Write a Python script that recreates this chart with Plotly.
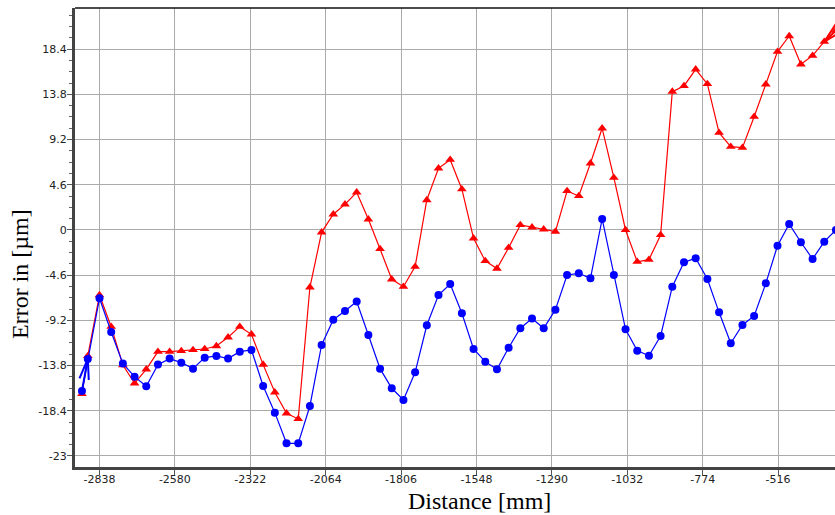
import math
import plotly.graph_objects as go

# ---------------- data ----------------
distance_mm = [-2898, -2878, -2838, -2798, -2758, -2718, -2678, -2638, -2598, -2558,
               -2518, -2478, -2438, -2398, -2358, -2318, -2278, -2238, -2198, -2158,
               -2118, -2078, -2038, -1998, -1958, -1918, -1878, -1838, -1798, -1758,
               -1718, -1678, -1638, -1598, -1558, -1518, -1478, -1438, -1398, -1358,
               -1318, -1278, -1238, -1198, -1158, -1118, -1078, -1038, -998, -958,
               -918, -878, -838, -798, -758, -718, -678, -638, -598, -558,
               -518, -478, -438, -398, -358, -318]

blue_err = [-16.39, -13.13, -6.95, -10.38, -13.6, -14.93, -15.91, -13.7, -13.09, -13.5,
            -14.11, -12.99, -12.82, -13.09, -12.38, -12.21, -15.88,
            -18.59, -21.71, -21.71, -17.91, -11.70, -9.13, -8.24, -7.29, -10.69,
            -14.11, -16.11, -17.30, -14.48, -9.70, -6.62, -5.50, -8.48,
            -12.11, -13.40, -14.18, -11.98, -10.0, -9.02, -10.0, -8.11, -4.58,
            -4.41, -4.92, 1.12, -4.58, -10.11, -12.28, -12.8,
            -10.79, -5.77, -3.29, -2.88, -4.99, -8.38, -11.53, -9.67, -8.75,
            -5.43, -1.60, 0.61, -1.25, -2.95, -1.19, 0.0]

red_err = [-16.69, -12.82, -6.62, -9.84, -13.74, -15.6, -14.18, -12.38, -12.38, -12.31,
           -12.21, -12.11, -11.81, -10.92, -9.84, -10.62, -13.7,
           -16.52, -18.66, -19.23, -5.83, -0.24, 1.60, 2.61, 3.83, 1.09,
           -1.93, -5.02, -5.77, -3.73, 3.05, 6.28, 7.15, 4.15,
           -0.85, -3.15, -3.93, -1.80, 0.51, 0.27, 0.07, -0.17, 3.97,
           3.46, 6.79, 10.35, 5.32, 0.0, -3.23, -3.02,
           -0.51, 14.08, 14.66, 16.35, 14.86, 9.90, 8.48, 8.38, 11.53,
           14.83, 18.15, 19.74, 16.86, 17.74, 19.16, 20.3]

x_tick_vals = [-2838, -2580, -2322, -2064, -1806, -1548, -1290, -1032, -774, -516]
x_tick_text = ["-2838", "-2580", "-2322", "-2064", "-1806", "-1548", "-1290", "-1032", "-774", "-516"]
y_tick_vals = [18.4, 13.8, 9.2, 4.6, 0, -4.6, -9.2, -13.8, -18.4, -23]
y_tick_text = ["18.4", "13.8", "9.2", "4.6", "0", "-4.6", "-9.2", "-13.8", "-18.4", "-23"]

# ---------------- layout geometry ----------------
FIG_W, FIG_H = 835, 515
ML, MR, MT, MB = 75, 0, 8, 48
XR = [-2921.8, -321.3]
YR = [-24.12, 22.59]
PW, PH = FIG_W - ML - MR, FIG_H - MT - MB


def to_px(x, y):
    px = ML + (x - XR[0]) / (XR[1] - XR[0]) * PW
    py = MT + (YR[1] - y) / (YR[1] - YR[0]) * PH
    return px, py


def to_data(px, py):
    x = XR[0] + (px - ML) / PW * (XR[1] - XR[0])
    y = YR[1] - (py - MT) / PH * (YR[1] - YR[0])
    return x, y


def arrow_head(xs, ys, tail_i, tip_i, length=21.0, half_angle=13.0):
    tx, ty = to_px(xs[tail_i], ys[tail_i])
    hx, hy = to_px(xs[tip_i], ys[tip_i])
    back = math.atan2(ty - hy, tx - hx)
    ax, ay = [], []
    for s in (1, -1):
        a = back + s * math.radians(half_angle)
        ex, ey = to_data(hx + length * math.cos(a), hy + length * math.sin(a))
        ax.append(ex)
        ay.append(ey)
    X = [ax[0], xs[tip_i], ax[1], None, xs[tail_i], xs[tip_i]]
    Y = [ay[0], ys[tip_i], ay[1], None, ys[tail_i], ys[tip_i]]
    return X, Y


fig = go.Figure()

fig.add_trace(go.Scatter(
    x=distance_mm, y=red_err, mode="lines+markers",
    line=dict(color="#ff0000", width=1.2),
    marker=dict(symbol="triangle-up", size=8.5, color="#ff0000"),
    showlegend=False))

fig.add_trace(go.Scatter(
    x=distance_mm, y=blue_err, mode="lines+markers",
    line=dict(color="#0000ff", width=1.2),
    marker=dict(symbol="circle", size=8, color="#0000ff"),
    showlegend=False))

bx, by = arrow_head(distance_mm, blue_err, 0, 1)
fig.add_trace(go.Scatter(x=bx, y=by, mode="lines",
                         line=dict(color="#0000ff", width=2), showlegend=False,
                         hoverinfo="skip"))
n = len(distance_mm)
rx, ry = arrow_head(distance_mm, red_err, n - 1, n - 2)
fig.add_trace(go.Scatter(x=rx, y=ry, mode="lines",
                         line=dict(color="#ff0000", width=2), showlegend=False,
                         hoverinfo="skip"))

tick_font = dict(family="DejaVu Sans", size=11, color="#222222")
title_font = dict(family="Liberation Serif", size=24, color="#000000")

fig.update_layout(
    width=FIG_W, height=FIG_H, autosize=False,
    margin=dict(l=ML, r=MR, t=MT, b=MB, pad=0),
    paper_bgcolor="white", plot_bgcolor="white",
    showlegend=False,
    xaxis=dict(
        range=XR, tickmode="array", tickvals=x_tick_vals, ticktext=x_tick_text,
        showgrid=True, gridcolor="#aaaaaa", gridwidth=1,
        zeroline=False, showline=True, linecolor="#444444", linewidth=3,
        ticks="outside", ticklen=5, tickcolor="#555555", tickwidth=1,
        tickfont=tick_font, ticklabelstandoff=-5,
    ),
    yaxis=dict(
        range=YR, tickmode="array", tickvals=y_tick_vals, ticktext=y_tick_text,
        showgrid=True, gridcolor="#aaaaaa", gridwidth=1,
        zeroline=False, showline=True, linecolor="#444444", linewidth=3,
        ticks="outside", ticklen=5, tickcolor="#555555", tickwidth=1,
        tickfont=tick_font, ticklabelstandoff=-2,
        minor=dict(tickmode="linear", tick0=0, dtick=1.15, ticks="outside",
                   ticklen=3, tickcolor="#666666", tickwidth=1, showgrid=False),
    ),
    shapes=[dict(type="line", xref="paper", yref="paper", x0=0, x1=1, y0=1, y1=1,
                 line=dict(color="#111111", width=1.5))],
    annotations=[
        dict(text="Distance [mm]", xref="paper", yref="paper",
             x=(479 - ML) / PW, y=(MT + PH - 501) / PH,
             xanchor="center", yanchor="middle", showarrow=False, font=title_font),
        dict(text="Error in [µm]", xref="paper", yref="paper",
             x=(20 - ML) / PW, y=(MT + PH - 274) / PH, textangle=-90,
             xanchor="center", yanchor="middle", showarrow=False, font=title_font),
    ],
)

fig.write_html("out.html")
